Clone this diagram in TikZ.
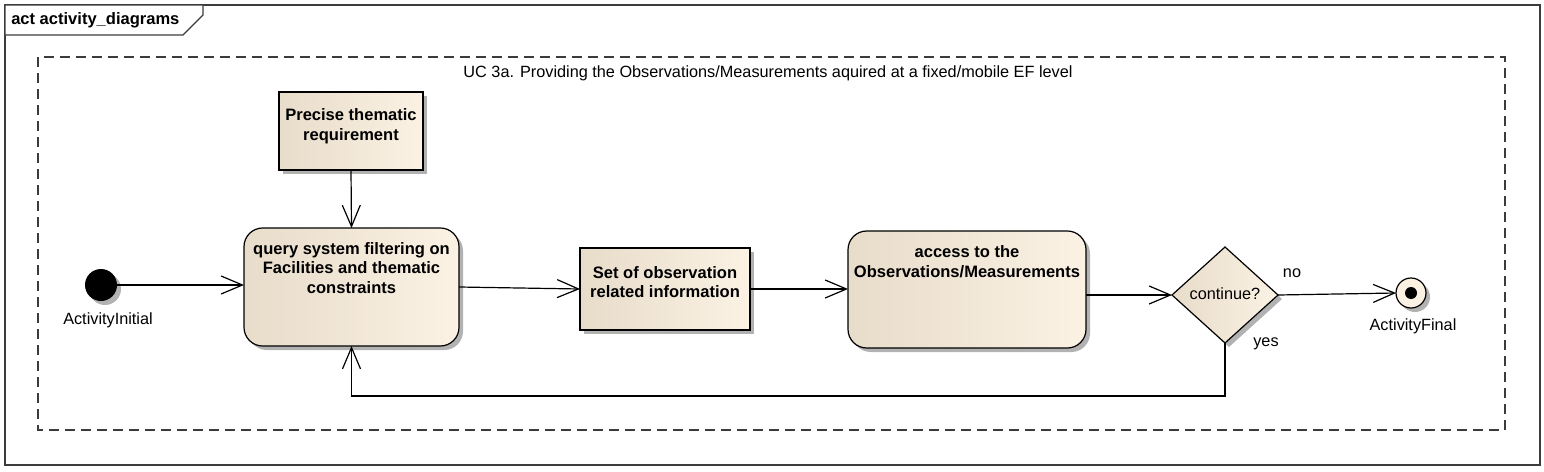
\documentclass[tikz,border=0pt]{standalone}
\usepackage{fontspec}
\setmainfont{Liberation Sans}
\usetikzlibrary{arrows.meta,shapes.geometric,shadows}
\definecolor{nodeL}{HTML}{E8DCCA}
\definecolor{nodeR}{HTML}{FBF2E4}
\definecolor{frameC}{HTML}{3C3C3C}
\begin{document}
\begin{tikzpicture}[x=0.75pt,y=-0.75pt,
  sz/.style 2 args={minimum width=#1*0.75pt, minimum height=#2*0.75pt, inner sep=0pt, outer sep=0pt},
  shad/.style={drop shadow={shadow xshift=3pt, shadow yshift=-3pt, fill=black!30, opacity=1}},
  act/.style={draw=black, line width=0.9pt, rounded corners=14pt, left color=nodeL, right color=nodeR, shad},
  obj/.style={draw=black, line width=0.9pt, left color=nodeL, right color=nodeR, shad},
  dec/.style={diamond, draw=black, line width=0.9pt, left color=nodeL, right color=nodeR, shad, aspect=1.1},
  btxt/.style={font=\fontsize{12.4}{14.8}\selectfont\bfseries, align=center, inner sep=0pt},
  rtxt/.style={font=\fontsize{12.2}{14}\selectfont, inner sep=0pt},
  flow/.style={draw=black, line width=0.9pt, -{Straight Barb[length=16pt,width=13.5pt,line width=0.9pt]}}
]
\useasboundingbox[fill=white] (0,0) rectangle (1544,471);
% outer frame
\draw[frameC, line width=0.8pt] (5,5) rectangle (1540,465);
\draw[frameC, line width=0.8pt, fill=white] (5,5) -- (203,5) -- (203,15) -- (183,35) -- (5,35) -- cycle;
\node[btxt, anchor=west] (title) at (11,20) {act activity\_diagrams};
% dashed region
\draw[frameC, line width=0.9pt, dash pattern=on 7.5pt off 4.5pt] (38,57) rectangle (1505,430);
\node[rtxt] (uc) at (768,73) {UC 3a. Providing the Observations/Measurements aquired at a fixed/mobile EF level};
% nodes
\node[circle, fill=black, sz={32}{32}, shad] (init) at (101,285) {};
\node[rtxt] (initL) at (108,320) {ActivityInitial};
\node[obj, sz={144}{78}] (prec) at (351,131) {};
\node[btxt] (precT) at (351,126) {Precise thematic\\requirement};
\node[act, sz={215}{118}] (query) at (351.5,287) {};
\node[btxt] (queryT) at (351.5,268) {query system filtering on\\Facilities and thematic\\constraints};
\node[obj, sz={170}{82}] (setobs) at (665,289) {};
\node[btxt] (setobsT) at (665,282) {Set of observation\\related information};
\node[act, sz={238}{117}] (access) at (967,289.5) {};
\node[btxt] (accessT) at (967,262) {access to the\\Observations/Measurements};
\node[dec, sz={106}{96}] (dia) at (1225,295) {};
\node[rtxt] (diaT) at (1225,294) {continue?};
\node[circle, draw=black, line width=0.9pt, fill=nodeR, sz={30}{30}, shad] (final) at (1411,293) {};
\node[circle, fill=black, sz={12}{12}] (finalDot) at (final) {};
\node[rtxt] (finalL) at (1413,326) {ActivityFinal};
\node[rtxt] (noL) at (1292,273) {no};
\node[rtxt] (yesL) at (1266,344) {yes};
% connectors
\draw[flow] (init.east) -- (init -| query.west);
\draw[flow] (prec.south) -- (query.north);
\draw[flow] (query.east) -- (setobs.west);
\draw[flow] (setobs.east) -- (setobs.east -| access.west);
\draw[flow] (access.east |- dia) -- (dia.west);
\draw[flow] (dia.east) -- (final.west);
\coordinate (loopc) at (351.5,396);
\draw[flow] (dia.south) |- (loopc) -- (query.south);
\end{tikzpicture}
\end{document}
